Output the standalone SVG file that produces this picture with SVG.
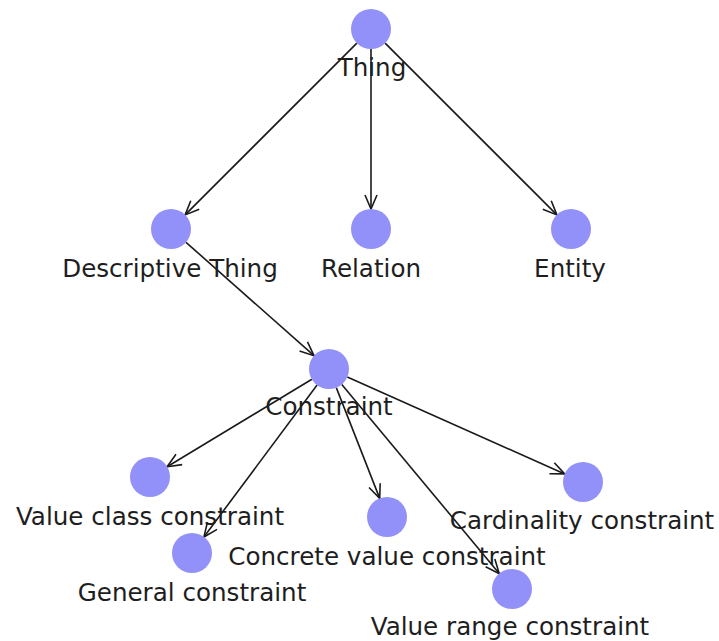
<svg xmlns="http://www.w3.org/2000/svg" width="719" height="641" viewBox="0 0 719 641">
<style>
.n{fill:#9191f9}
.t{font-family:"DejaVu Sans",Verdana,sans-serif;font-size:24.6px;fill:#1e1e1e;text-anchor:middle}
.e{stroke:#1a1a1a;stroke-width:1.6;fill:none;marker-end:url(#a)}
</style>
<defs>
<marker id="a" viewBox="0 0 16 14" refX="15" refY="7" markerWidth="16" markerHeight="14" markerUnits="userSpaceOnUse" orient="auto">
<path d="M1,1 L15,7 L1,13" fill="none" stroke="#1a1a1a" stroke-width="1.6"/>
</marker>
</defs>
<rect width="719" height="641" fill="#fff"/>
<g id="connectors">
<line class="e" x1="356.9" y1="43.1" x2="185.1" y2="214.9"/>
<line class="e" x1="371" y1="49" x2="371" y2="209"/>
<line class="e" x1="385.1" y1="43.1" x2="556.9" y2="214.9"/>
<line class="e" x1="186" y1="242.3" x2="314" y2="355.7"/>
<line class="e" x1="311.9" y1="379.3" x2="167.1" y2="466.7"/>
<line class="e" x1="317.1" y1="385" x2="203.9" y2="537"/>
<line class="e" x1="336.3" y1="387.6" x2="379.7" y2="498.4"/>
<line class="e" x1="341.8" y1="384.4" x2="499.2" y2="573.6"/>
<line class="e" x1="347.3" y1="377.1" x2="564.7" y2="473.9"/>
</g>
<g id="thing"><circle class="n" cx="371" cy="29" r="20"/><text class="t" x="372" y="76">Thing</text></g>
<g id="descriptive-thing"><circle class="n" cx="171" cy="229" r="20"/><text class="t" x="170" y="277">Descriptive Thing</text></g>
<g id="relation"><circle class="n" cx="371" cy="229" r="20"/><text class="t" x="371" y="277">Relation</text></g>
<g id="entity"><circle class="n" cx="571" cy="229" r="20"/><text class="t" x="570" y="277">Entity</text></g>
<g id="constraint"><circle class="n" cx="329" cy="369" r="20"/><text class="t" x="329" y="415">Constraint</text></g>
<g id="value-class-constraint"><circle class="n" cx="150" cy="477" r="20"/><text class="t" x="150" y="525">Value class constraint</text></g>
<g id="general-constraint"><circle class="n" cx="192" cy="553" r="20"/><text class="t" x="192" y="601">General constraint</text></g>
<g id="concrete-value-constraint"><circle class="n" cx="387" cy="517" r="20"/><text class="t" x="387" y="565">Concrete value constraint</text></g>
<g id="cardinality-constraint"><circle class="n" cx="583" cy="482" r="20"/><text class="t" x="582" y="529">Cardinality constraint</text></g>
<g id="value-range-constraint"><circle class="n" cx="512" cy="589" r="20"/><text class="t" x="510" y="635">Value range constraint</text></g>
</svg>
